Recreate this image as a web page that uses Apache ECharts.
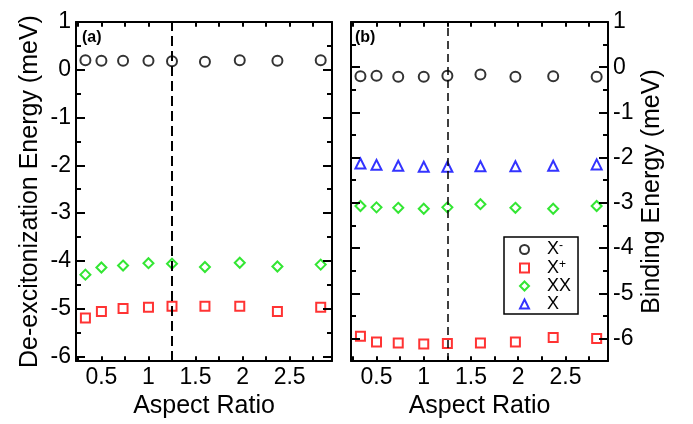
<!DOCTYPE html>
<html>
<head>
<meta charset="utf-8">
<script src="https://cdn.jsdelivr.net/npm/echarts@6/dist/echarts.min.js"></script>
<style>
  html, body { margin: 0; padding: 0; background: #fff; }
  #chart { width: 693px; height: 424px; }
</style>
</head>
<body>
<div id="chart"></div>
<script>
// aspect ratios shared by both panels
const aspect = [0.33, 0.5, 0.73, 1.0, 1.25, 1.6, 1.97, 2.37, 2.83]
const dividerX = 1.25

// (a) de-excitonization energy, meV
const aXminus = [0.2, 0.19, 0.19, 0.19, 0.18, 0.17, 0.2, 0.19, 0.2]
const aXplus = [-5.2, -5.06, -5.0, -4.97, -4.95, -4.95, -4.95, -5.06, -4.97]
const aXX = [-4.29, -4.14, -4.1, -4.05, -4.06, -4.13, -4.04, -4.12, -4.08]

// (b) binding energy, meV
const bXminus = [-0.2, -0.19, -0.21, -0.21, -0.19, -0.16, -0.21, -0.2, -0.21]
const bXplus = [-5.95, -6.08, -6.1, -6.12, -6.11, -6.1, -6.08, -5.98, -6.0]
const bXX = [-3.07, -3.1, -3.11, -3.13, -3.1, -3.03, -3.11, -3.13, -3.07]
const bX = [-2.13, -2.16, -2.18, -2.2, -2.2, -2.19, -2.19, -2.18, -2.15]

// tick positions (drawn inward on all four sides)
const xTicks = [0.25, 0.5, 0.75, 1, 1.25, 1.5, 1.75, 2, 2.25, 2.5, 2.75]
const yMajor = [-6, -5, -4, -3, -2, -1, 0]
const yMinor = [-5.5, -4.5, -3.5, -2.5, -1.5, -0.5, 0.5]

const xRange = [0.23, 2.95]
const yRangeA = [-6.1, 1]
const yRangeB = [-6.5, 1]

const FONT = "'Liberation Sans', Arial, Helvetica, sans-serif"
const names = ['Xm', 'Xp', 'XX', 'X']
const colors = { Xm: '#000000', Xp: '#ff0000', XX: '#00e000', X: '#0000ff' }
const symbols = { Xm: 'circle', Xp: 'rect', XX: 'diamond', X: 'triangle' }
const sizes = { Xm: 10, Xp: 9, XX: 10, X: 10 }

const grids = [
  { left: 76, right: 361, top: 22, bottom: 54 },
  { left: 351, right: 85, top: 22, bottom: 53 }
]

function zip(ys) {
  return aspect.map((x, i) => [x, ys[i]])
}

function stepLabel(step) {
  return v => {
    const k = v / step
    return Math.abs(k - Math.round(k)) < 1e-6 ? String(+v.toFixed(2)) : ''
  }
}

const frame = { show: true, onZero: false, lineStyle: { color: '#000', width: 2 } }

function xAxes(grid) {
  const base = {
    type: 'value', gridIndex: grid, min: xRange[0], max: xRange[1],
    minInterval: 0.5, maxInterval: 0.5,
    axisLine: frame, splitLine: { show: false }, axisTick: { show: false }
  }
  return [
    Object.assign({}, base, {
      position: 'bottom',
      name: 'Aspect Ratio', nameLocation: 'middle', nameGap: 27,
      nameTextStyle: { fontFamily: FONT, fontSize: 25, color: '#000' },
      axisLabel: {
        margin: 5, fontFamily: FONT, fontSize: 23, color: '#000',
        showMinLabel: false, showMaxLabel: false, formatter: stepLabel(0.5)
      }
    }),
    Object.assign({}, base, { position: 'top', axisLabel: { show: false } })
  ]
}

function yAxes(grid, range, labelSide, name, nameGap) {
  return ['left', 'right'].map(side => {
    const withLabel = side === labelSide
    const ax = {
      type: 'value', gridIndex: grid, min: range[0], max: range[1], position: side,
      minInterval: 1, maxInterval: 1,
      axisLine: frame, splitLine: { show: false }, axisTick: { show: false },
      axisLabel: withLabel
        ? { margin: 5, fontFamily: FONT, fontSize: 23, color: '#000', showMinLabel: false, formatter: stepLabel(1) }
        : { show: false }
    }
    if (withLabel) {
      ax.name = name
      ax.nameLocation = 'middle'
      ax.nameGap = nameGap
      ax.nameRotate = 90
      ax.nameTextStyle = { fontFamily: FONT, fontSize: 25, color: '#000' }
    }
    return ax
  })
}

// inward ticks as short mark-line segments in data space;
// tick length in pixels is converted to data units for each panel
function tickSegments(grid, yRange) {
  const g = grids[grid]
  const pxX = (693 - g.left - g.right) / (xRange[1] - xRange[0])
  const pxY = (424 - g.top - g.bottom) / (yRange[1] - yRange[0])
  const solid = { type: 'solid', width: 2, color: '#000' }
  const seg = (a, b) => [{ coord: a, lineStyle: solid }, { coord: b }]
  const out = []
  const dx = 5 / pxY
  xTicks.forEach(v => {
    out.push(seg([v, yRange[0]], [v, yRange[0] + dx]))
    out.push(seg([v, yRange[1]], [v, yRange[1] - dx]))
  })
  const addY = (vals, len) => vals.forEach(v => {
    const d = len / pxX
    out.push(seg([xRange[0], v], [xRange[0] + d, v]))
    out.push(seg([xRange[1], v], [xRange[1] - d, v]))
  })
  addY(yMajor, 9)
  addY(yMinor, 5)
  return out
}

function scatter(key, ys, xi, yi, divider) {
  const s = {
    name: key, type: 'scatter', xAxisIndex: xi, yAxisIndex: yi,
    symbol: symbols[key], symbolSize: sizes[key],
    itemStyle: { color: 'transparent', borderColor: colors[key], borderWidth: 2 },
    data: zip(ys)
  }
  if (divider) {
    s.markLine = {
      silent: true, symbol: ['none', 'none'], label: { show: false },
      lineStyle: { color: '#000', type: divider.dash, width: divider.width },
      data: [{ xAxis: dividerX }].concat(tickSegments(divider.grid, divider.yRange))
    }
  }
  return s
}

const legendText = {
  Xm: '{g|}{b|X}{s|-}',
  Xp: '{g|}{b|X}{s|+}',
  XX: '{g|}{b|XX}',
  X: '{g|}{b|X}'
}

const option = {
  animation: false,
  backgroundColor: '#fff',
  grid: grids,
  xAxis: xAxes(0).concat(xAxes(1)),
  yAxis: yAxes(0, yRangeA, 'left', 'De-excitonization Energy (meV)', 33)
    .concat(yAxes(1, yRangeB, 'right', 'Binding Energy (meV)', 32)),
  legend: {
    data: names, selectedMode: false, orient: 'vertical',
    left: 504, top: 237,
    padding: [3, 7, 1, 15], itemGap: 0, itemWidth: 9, itemHeight: 9,
    borderColor: '#000', borderWidth: 1.5, backgroundColor: '#fff',
    formatter: n => legendText[n],
    textStyle: {
      fontFamily: FONT, color: '#000',
      rich: {
        g: { width: 13 },
        b: { fontFamily: FONT, fontSize: 18, lineHeight: 19, color: '#000' },
        s: { fontFamily: FONT, fontSize: 12, lineHeight: 10, verticalAlign: 'top', color: '#000' }
      }
    }
  },
  graphic: [
    { type: 'text', left: 82, top: 30, style: { text: '(a)', fontFamily: FONT, fontWeight: 'bold', fontSize: 16, fill: '#000' } },
    { type: 'text', left: 355, top: 30, style: { text: '(b)', fontFamily: FONT, fontWeight: 'bold', fontSize: 16, fill: '#000' } }
  ],
  series: [
    scatter('Xm', aXminus, 0, 0, { dash: [10, 5], width: 2, grid: 0, yRange: yRangeA }),
    scatter('Xp', aXplus, 0, 0),
    scatter('XX', aXX, 0, 0),
    scatter('Xm', bXminus, 2, 2, { dash: [8, 5], width: 1.5, grid: 1, yRange: yRangeB }),
    scatter('Xp', bXplus, 2, 2),
    scatter('XX', bXX, 2, 2),
    scatter('X', bX, 2, 2)
  ]
}

const chart = echarts.init(document.getElementById('chart'))
chart.setOption(option)
</script>
</body>
</html>
